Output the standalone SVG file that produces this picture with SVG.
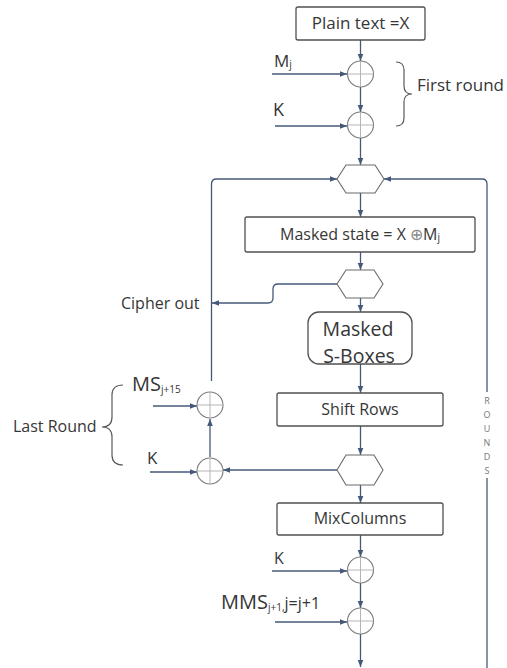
<svg xmlns="http://www.w3.org/2000/svg" width="507" height="668" viewBox="0 0 507 668">
  <defs>
    <marker id="arrow" viewBox="0 0 8 8" refX="8" refY="4" markerWidth="7" markerHeight="7" orient="auto" markerUnits="userSpaceOnUse">
      <path d="M0,0.8 L8,4 L0,7.2 Z" fill="#46587a"/>
    </marker>
    <g id="xor">
      <circle cx="0" cy="0" r="13" fill="#fff" stroke="#7a7a7a" stroke-width="1.1"/>
      <line x1="-13" y1="0" x2="13" y2="0" stroke="#b5b5b5" stroke-width="1"/>
      <line x1="0" y1="-13" x2="0" y2="13" stroke="#b5b5b5" stroke-width="1"/>
    </g>
  </defs>
  <style>
    text { font-family: "Open Sans", "Noto Sans", "Liberation Sans", sans-serif; fill: #363636; }
    .box { fill: #fff; stroke: #505050; stroke-width: 1.3; }
    .hex { fill: #fff; stroke: #6a6a6a; stroke-width: 1.1; }
    .lbl { font-size: 16px; text-anchor: middle; }
    .side { font-size: 16px; }
    .big { font-size: 20px; }
    .sbox { font-size: 19.5px; text-anchor: middle; }
    .sub { font-size: 10px; }
    .brace { fill: none; stroke: #5a5a5a; stroke-width: 1.2; }
    .conn { fill: none; stroke: #46587a; stroke-width: 1.3; }
    .arr { marker-end: url(#arrow); }
    .rounds { font-size: 9px; fill: #777; text-anchor: middle; }
  </style>

  <rect width="507" height="668" fill="#fff"/>

  <!-- connectors -->
  <g id="connectors">
    <!-- main data path -->
    <line class="conn arr" x1="360.5" y1="40" x2="360.5" y2="61"/>
    <line class="conn arr" x1="360.5" y1="87" x2="360.5" y2="112"/>
    <line class="conn arr" x1="360.5" y1="138" x2="360.5" y2="165"/>
    <line class="conn arr" x1="360.5" y1="193" x2="360.5" y2="217"/>
    <line class="conn arr" x1="360.5" y1="252" x2="360.5" y2="270"/>
    <line class="conn arr" x1="360.5" y1="298" x2="360.5" y2="312"/>
    <line class="conn arr" x1="360.5" y1="364" x2="360.5" y2="393"/>
    <line class="conn arr" x1="360.5" y1="426" x2="360.5" y2="455"/>
    <line class="conn arr" x1="360.5" y1="485" x2="360.5" y2="503"/>
    <line class="conn arr" x1="360.5" y1="535" x2="360.5" y2="557"/>
    <line class="conn arr" x1="360.5" y1="583" x2="360.5" y2="608"/>
    <line class="conn arr" x1="360.5" y1="634" x2="360.5" y2="667"/>

    <!-- side inputs -->
    <line class="conn arr" x1="272" y1="74" x2="347" y2="74"/>
    <line class="conn arr" x1="275" y1="126" x2="347" y2="126"/>
    <line class="conn arr" x1="272" y1="571" x2="347" y2="571"/>
    <line class="conn arr" x1="275" y1="622" x2="347" y2="622"/>
    <line class="conn arr" x1="153" y1="406" x2="197" y2="406"/>
    <line class="conn arr" x1="150" y1="472" x2="197" y2="472"/>

    <!-- feedback loops into the round hexagon -->
    <path class="conn arr" d="M211.5,381 L211.5,184 Q211.5,179 216.5,179 L337,179"/>
    <path class="conn" d="M487,668 L487,478"/>
    <path class="conn arr" d="M487,392 L487,184 Q487,179 482,179 L384,179"/>

    <!-- cipher out -->
    <path class="conn arr" d="M337,284 L278,284 Q273,284 273,289 L273,298 Q273,303 268,303 L212,303"/>

    <!-- last round -->
    <line class="conn arr" x1="337" y1="470" x2="223" y2="470"/>
    <line class="conn arr" x1="210" y1="457" x2="210" y2="419"/>
  </g>

  <!-- nodes -->
  <g id="plaintext">
    <rect class="box" x="296" y="7" width="129" height="33" rx="2"/>
    <text class="lbl" x="360.5" y="29" style="font-size:17px">Plain text =X</text>
  </g>

  <g id="xor-mj"><use href="#xor" x="360.5" y="74"/></g>
  <g id="xor-k1"><use href="#xor" x="360.5" y="125"/></g>

  <g id="label-mj">
    <text class="side" x="274" y="67" style="font-size:17px">M<tspan class="sub" dy="1">j</tspan></text>
  </g>
  <g id="label-k1">
    <text class="side" x="273" y="116" style="font-size:18px">K</text>
  </g>

  <g id="first-round">
    <path class="brace" d="M396,62 Q404,62 404,70 L404,86 Q404,94 412,94 Q404,94 404,102 L404,118 Q404,126 396,126"/>
    <text class="side" x="417" y="91" style="font-size:17px">First round</text>
  </g>

  <g id="hex-round">
    <polygon class="hex" points="337,179 346,165 375,165 384,179 375,193 346,193"/>
  </g>

  <g id="masked-state">
    <rect class="box" x="245" y="217" width="230" height="35" rx="2"/>
    <text class="lbl" x="360" y="240">Masked state = X <tspan fill="#8a8a8a">⊕</tspan>M<tspan class="sub" dy="1">j</tspan></text>
  </g>

  <g id="hex-out">
    <polygon class="hex" points="337,284 346,270 374,270 383,284 374,298 346,298"/>
  </g>

  <g id="cipher-out">
    <text class="side" x="121" y="309">Cipher out</text>
  </g>

  <g id="sboxes">
    <rect class="box" x="308" y="312" width="104" height="52" rx="11"/>
    <text class="sbox" x="358" y="336">Masked</text>
    <text class="sbox" x="359" y="363">S-Boxes</text>
  </g>

  <g id="shift-rows">
    <rect class="box" x="277" y="393" width="166" height="33" rx="2"/>
    <text class="lbl" x="360" y="415">Shift Rows</text>
  </g>

  <g id="hex-last">
    <polygon class="hex" points="337,470 346,455 374,455 383,470 374,485 346,485"/>
  </g>

  <g id="mix-columns">
    <rect class="box" x="277" y="503" width="166" height="32" rx="2"/>
    <text class="lbl" x="360" y="524">MixColumns</text>
  </g>

  <g id="xor-k2"><use href="#xor" x="360.5" y="570"/></g>
  <g id="xor-mms"><use href="#xor" x="360.5" y="621"/></g>

  <g id="label-k2">
    <text class="side" x="274" y="564">K</text>
  </g>
  <g id="label-mms">
    <text class="big" x="221" y="609">MMS<tspan class="sub" dy="2">j+1,</tspan><tspan font-size="16" dy="-2">j=j+1</tspan></text>
  </g>

  <g id="xor-ms"><use href="#xor" x="210" y="405"/></g>
  <g id="xor-k3"><use href="#xor" x="210" y="471"/></g>

  <g id="label-ms">
    <text class="big" x="132" y="391">MS<tspan class="sub" dy="2">j+15</tspan></text>
  </g>
  <g id="label-k3">
    <text class="side" x="147" y="464" style="font-size:17px">K</text>
  </g>

  <g id="last-round">
    <path class="brace" d="M123,385 Q112,385 112,395 L112,417 Q112,427 102,427 Q112,427 112,437 L112,455 Q112,465 123,465"/>
    <text class="side" x="13" y="432">Last Round</text>
  </g>

  <g id="rounds-label">
    <text class="rounds" x="487" y="404">R</text>
    <text class="rounds" x="487" y="418">O</text>
    <text class="rounds" x="487" y="432">U</text>
    <text class="rounds" x="487" y="446">N</text>
    <text class="rounds" x="487" y="460">D</text>
    <text class="rounds" x="487" y="474">S</text>
  </g>
</svg>
